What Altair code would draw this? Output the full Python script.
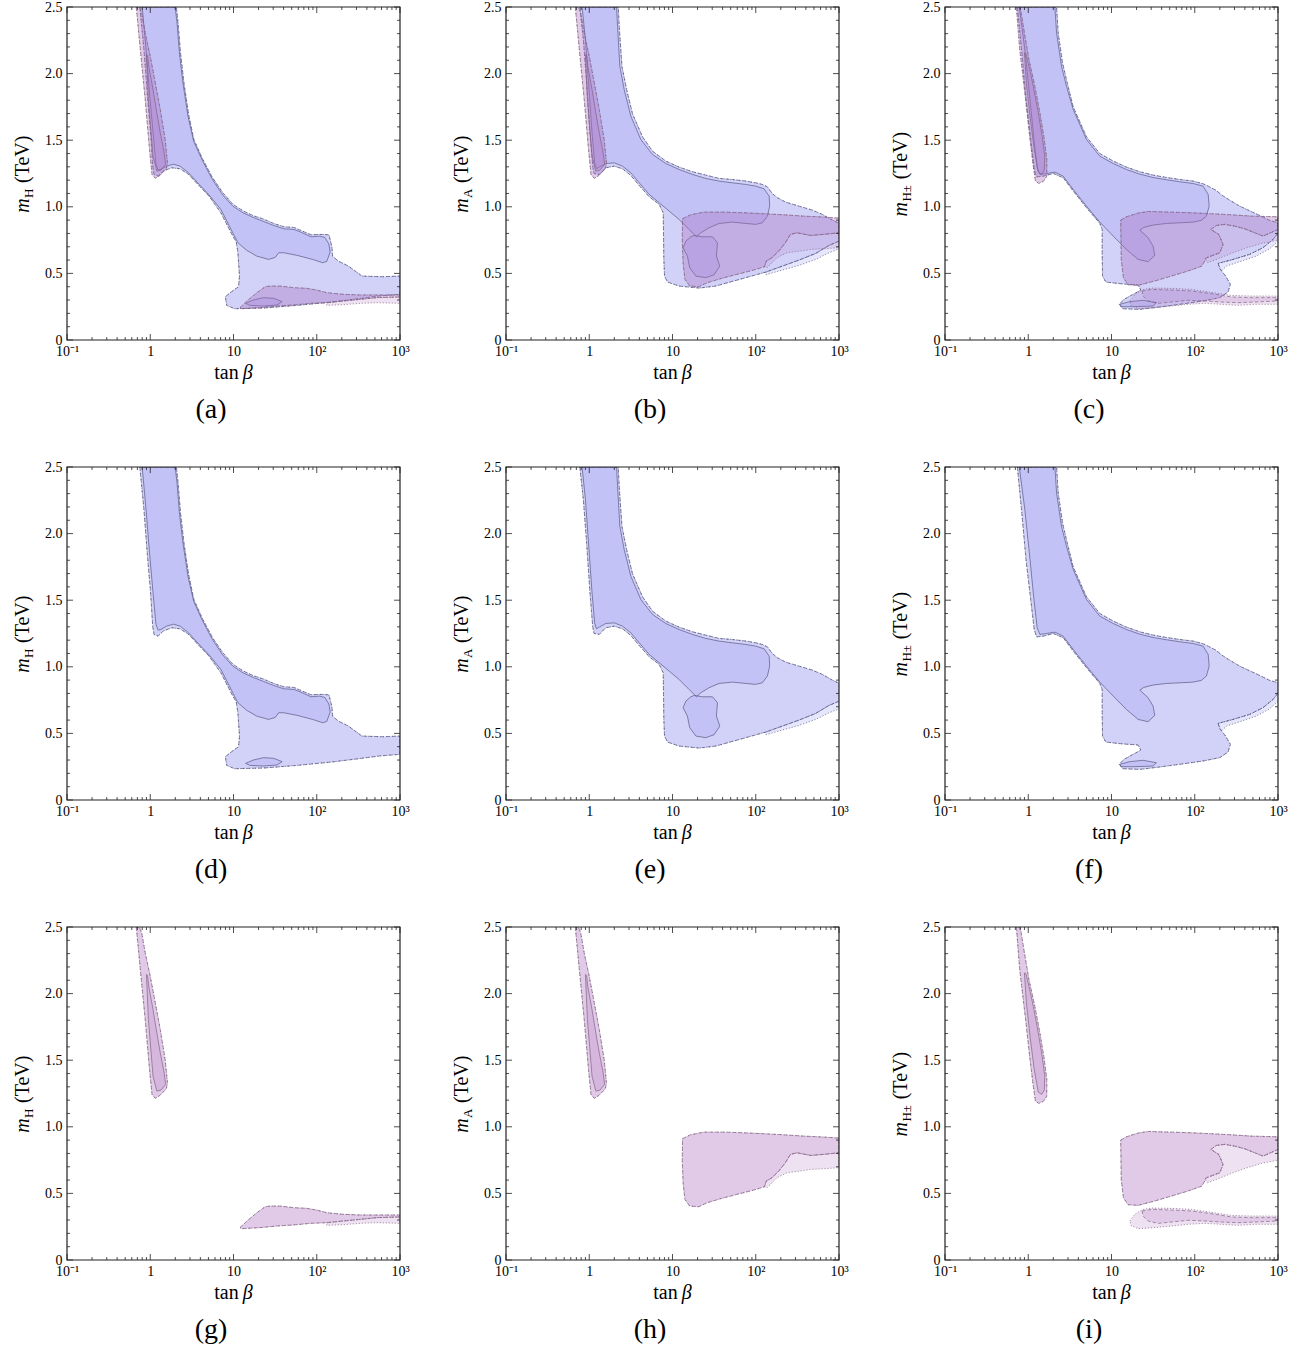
import altair as alt
import pandas as pd

# ---------------- axis ticks / labels ----------------
X_MAJOR = [0.1, 1, 10, 100, 1000]
X_TICK_LABELS = ["10⁻¹", "1", "10", "10²", "10³"]
X_MINOR = [m * d for d in (0.1, 1, 10, 100) for m in (2, 3, 4, 5, 6, 7, 8, 9)]
Y_MAJOR = [0, 0.5, 1.0, 1.5, 2.0, 2.5]
Y_MINOR = [0.1, 0.2, 0.3, 0.4, 0.6, 0.7, 0.8, 0.9, 1.1, 1.2, 1.3, 1.4,
           1.6, 1.7, 1.8, 1.9, 2.1, 2.2, 2.3, 2.4]
CAPTIONS = ["(a)", "(b)", "(c)", "(d)", "(e)", "(f)", "(g)", "(h)", "(i)"]
SUBSCRIPTS = ["H", "A", "H±"]

# ---------------- contour regions: (tan beta, mass in TeV) ----------------
# blue, m_H
BLUE_H_L1_STRIP = [(0.80, 2.50), (1.99, 2.50), (2.10, 2.38), (2.24, 2.155), (2.47, 1.93), (2.84, 1.68),
    (3.33, 1.49), (4.21, 1.35), (5.58, 1.205), (7.40, 1.09), (9.8, 1.005), (13.0, 0.955), (17.3, 0.92),
    (22.9, 0.89), (30.3, 0.86), (40.2, 0.835), (53.3, 0.83), (64.3, 0.81), (85.2, 0.775), (108, 0.78),
    (125, 0.77), (140, 0.72), (145, 0.66), (132, 0.59), (118, 0.58), (89, 0.605), (58.5, 0.635),
    (40.2, 0.655), (34.9, 0.655), (31.8, 0.62), (26.3, 0.605), (19.0, 0.63), (14.3, 0.675), (11.3, 0.73),
    (9.35, 0.83), (7.06, 0.98), (5.08, 1.09), (3.84, 1.17), (2.89, 1.255), (2.29, 1.305), (1.90, 1.32),
    (1.57, 1.305), (1.34, 1.28), (1.24, 1.275), (1.17, 1.32), (1.08, 1.555), (0.98, 1.855), (0.89, 2.18)]
BLUE_H_L1_ISLAND = [(14.0, 0.275), (17.3, 0.30), (22.9, 0.318), (30.3, 0.313), (38.4, 0.288),
    (33.3, 0.263), (22.9, 0.255), (15.7, 0.26)]
BLUE_H_L2 = [(0.75, 2.50), (0.84, 2.18), (0.92, 1.855), (1.01, 1.555), (1.07, 1.305), (1.11, 1.243),
    (1.24, 1.23), (1.43, 1.268), (1.81, 1.293), (2.29, 1.285), (2.89, 1.243), (3.84, 1.16), (5.08, 1.08),
    (7.06, 0.955), (9.35, 0.805), (10.8, 0.735), (11.3, 0.655), (11.8, 0.48), (11.5, 0.40), (9.35, 0.36),
    (7.98, 0.325), (8.28, 0.26), (10.3, 0.235), (22.9, 0.24), (58.5, 0.26), (150, 0.285), (318, 0.31),
    (558, 0.33), (1000, 0.343), (1000, 0.48), (613, 0.475), (349, 0.48), (289, 0.518), (240, 0.555),
    (181, 0.593), (155, 0.63), (152, 0.70), (140, 0.79), (108, 0.793), (85.2, 0.79), (64.3, 0.823),
    (53.3, 0.845), (40.2, 0.85), (30.3, 0.875), (22.9, 0.908), (17.3, 0.933), (13.0, 0.97), (9.8, 1.02),
    (7.40, 1.108), (5.58, 1.22), (4.21, 1.365), (3.33, 1.508), (2.89, 1.693), (2.54, 1.93), (2.31, 2.155),
    (2.16, 2.38), (2.06, 2.50)]

# blue, m_A
BLUE_A_L1_STRIP = [(0.82, 2.50), (2.13, 2.50), (2.19, 2.355), (2.33, 2.055), (2.63, 1.88), (3.16, 1.68),
    (4.17, 1.505), (5.75, 1.393), (8.32, 1.325), (12.0, 1.28), (17.4, 1.243), (25.1, 1.213), (36.3, 1.193),
    (52.5, 1.18), (75.9, 1.168), (100, 1.155), (126, 1.135), (145, 1.08), (147, 1.005), (138, 0.93),
    (120, 0.88), (100, 0.868), (75.9, 0.875), (52.5, 0.885), (36.3, 0.875), (27.5, 0.843), (21.9, 0.805),
    (19.4, 0.775), (15.8, 0.83), (12.0, 0.905), (9.12, 0.968), (6.92, 1.03), (5.25, 1.093), (3.98, 1.18),
    (3.16, 1.255), (2.51, 1.305), (2.0, 1.33), (1.58, 1.325), (1.32, 1.298), (1.22, 1.285), (1.16, 1.33),
    (1.08, 1.555), (0.98, 1.93), (0.90, 2.255)]
BLUE_A_L1_ISLAND = [(18.2, 0.785), (22.9, 0.775), (30.2, 0.775), (34.7, 0.73), (33.7, 0.63), (37.0, 0.555),
    (31.6, 0.49), (25.1, 0.468), (19.1, 0.48), (16.1, 0.543), (15.1, 0.63), (13.4, 0.693), (14.5, 0.743),
    (16.6, 0.775)]
BLUE_A_L2 = [(0.77, 2.50), (0.85, 2.255), (0.93, 1.93), (1.02, 1.555), (1.10, 1.305), (1.14, 1.25),
    (1.32, 1.243), (1.58, 1.293), (2.0, 1.305), (2.51, 1.285), (3.16, 1.235), (3.98, 1.16), (5.25, 1.075),
    (6.92, 1.018), (7.73, 0.955), (7.80, 0.805), (7.87, 0.605), (8.02, 0.48), (8.71, 0.435), (12.0, 0.405),
    (20.9, 0.39), (33.1, 0.405), (52.5, 0.44), (83.2, 0.475), (132, 0.51), (209, 0.555), (331, 0.60),
    (525, 0.65), (759, 0.71), (1010, 0.743), (1010, 0.875), (832, 0.90), (631, 0.943), (479, 0.975),
    (331, 1.005), (229, 1.035), (182, 1.068), (158, 1.10), (138, 1.15), (120, 1.168), (100, 1.18),
    (75.9, 1.193), (52.5, 1.205), (36.3, 1.213), (25.1, 1.238), (17.4, 1.263), (12.0, 1.298), (8.32, 1.343),
    (5.75, 1.418), (4.37, 1.525), (3.31, 1.698), (2.81, 1.88), (2.47, 2.055), (2.29, 2.355), (2.23, 2.50)]
BLUE_A_L3X = [(132, 0.51), (209, 0.555), (331, 0.60), (525, 0.65), (759, 0.71), (1010, 0.743),
    (1010, 0.685), (759, 0.655), (525, 0.605), (331, 0.56), (209, 0.525), (132, 0.49)]

# blue, m_H+-
BLUE_C_L1_STRIP = [(0.78, 2.50), (2.09, 2.50), (2.19, 2.305), (2.51, 2.055), (2.88, 1.905), (3.47, 1.73),
    (5.01, 1.505), (7.24, 1.38), (10.5, 1.325), (15.1, 1.28), (21.9, 1.245), (31.6, 1.22), (45.7, 1.203),
    (66.1, 1.188), (95.5, 1.175), (126, 1.155), (145, 1.093), (149, 1.005), (138, 0.93), (120, 0.898),
    (95.5, 0.885), (66.1, 0.88), (45.7, 0.875), (31.6, 0.863), (24.4, 0.845), (21.9, 0.825), (27.5, 0.768),
    (31.6, 0.705), (33.1, 0.635), (27.5, 0.588), (20.9, 0.605), (15.1, 0.68), (10.5, 0.78), (7.24, 0.885),
    (5.01, 1.005), (3.47, 1.13), (2.63, 1.23), (2.09, 1.26), (1.66, 1.25), (1.38, 1.243), (1.28, 1.293),
    (1.17, 1.505), (1.05, 1.805), (0.91, 2.18)]
BLUE_C_L1_ISLAND = [(12.6, 0.268), (16.6, 0.288), (24.0, 0.298), (34.7, 0.28), (31.6, 0.255),
    (18.2, 0.25), (13.2, 0.25)]
BLUE_C_L2 = [(0.74, 2.50), (0.83, 2.18), (0.94, 1.805), (1.07, 1.505), (1.18, 1.28), (1.26, 1.225),
    (1.51, 1.23), (2.0, 1.25), (2.63, 1.218), (3.47, 1.118), (5.01, 0.993), (7.24, 0.875), (7.73, 0.83),
    (7.73, 0.655), (7.80, 0.48), (8.55, 0.435), (12.6, 0.423), (20.9, 0.413), (22.5, 0.375), (18.2, 0.343),
    (14.1, 0.305), (12.4, 0.268), (13.6, 0.235), (21.9, 0.23), (38.0, 0.248), (66.1, 0.268), (126, 0.293),
    (200, 0.318), (251, 0.36), (268, 0.418), (235, 0.48), (200, 0.535), (191, 0.575), (288, 0.605),
    (457, 0.643), (661, 0.693), (871, 0.755), (1010, 0.805), (1010, 0.88), (794, 0.898), (603, 0.935),
    (457, 0.97), (347, 1.005), (263, 1.05), (215, 1.085), (179, 1.125), (145, 1.155), (126, 1.173),
    (95.5, 1.193), (66.1, 1.205), (45.7, 1.22), (31.6, 1.238), (21.9, 1.263), (15.1, 1.298), (10.5, 1.343),
    (7.24, 1.40), (5.01, 1.525), (3.47, 1.75), (2.94, 1.93), (2.58, 2.08), (2.29, 2.305), (2.19, 2.50)]
BLUE_C_L3X = [(191, 0.575), (288, 0.605), (457, 0.643), (661, 0.693), (871, 0.755), (1010, 0.805),
    (1010, 0.743), (794, 0.685), (550, 0.63), (347, 0.588), (240, 0.555), (209, 0.518)]

# pink, m_H and m_A (same narrow strip)
PINK_STRIP_L2 = [(0.68, 2.50), (0.76, 2.18), (0.87, 1.805), (0.98, 1.43), (1.05, 1.243), (1.15, 1.213),
    (1.32, 1.238), (1.56, 1.285), (1.61, 1.33), (1.51, 1.505), (1.32, 1.73), (1.15, 1.93), (1.0, 2.13),
    (0.87, 2.305), (0.79, 2.455), (0.74, 2.50)]
PINK_STRIP_L1 = [(0.90, 2.143), (0.95, 1.805), (1.08, 1.38), (1.20, 1.268), (1.34, 1.275), (1.53, 1.318),
    (1.47, 1.405), (1.32, 1.555), (1.20, 1.705), (1.08, 1.88), (0.96, 2.055), (0.93, 2.135)]
PINK_H_BAND_L2 = [(12.0, 0.243), (14.5, 0.293), (19.1, 0.355), (24.0, 0.40), (27.5, 0.405), (36.3, 0.405),
    (52.5, 0.393), (75.9, 0.388), (100, 0.375), (132, 0.355), (209, 0.343), (331, 0.338), (1000, 0.338),
    (1000, 0.323), (525, 0.318), (331, 0.305), (209, 0.293), (132, 0.28), (83.2, 0.275), (52.5, 0.263),
    (33.1, 0.255), (20.9, 0.243), (12.5, 0.235)]
PINK_H_BAND_L3X = [(132, 0.28), (209, 0.293), (331, 0.305), (525, 0.318), (1000, 0.323), (1000, 0.275),
    (525, 0.28), (331, 0.275), (209, 0.265), (132, 0.26)]
PINK_A_L2 = [(13.2, 0.91), (16.4, 0.94), (23.8, 0.96), (41.3, 0.96), (71.8, 0.955), (125, 0.948),
    (217, 0.94), (377, 0.93), (655, 0.923), (1000, 0.915), (1000, 0.805), (655, 0.793), (453, 0.785),
    (313, 0.805), (261, 0.793), (227, 0.73), (189, 0.668), (157, 0.618), (134, 0.593), (127, 0.55),
    (94.6, 0.525), (59.7, 0.493), (37.7, 0.46), (26.1, 0.43), (20.7, 0.40), (16.1, 0.405), (14.1, 0.455),
    (13.4, 0.58), (13.1, 0.755)]
PINK_A_L3X = [(127, 0.55), (134, 0.593), (157, 0.618), (189, 0.668), (227, 0.73), (261, 0.793),
    (313, 0.805), (453, 0.785), (655, 0.793), (1000, 0.805), (1000, 0.693), (655, 0.685), (453, 0.68),
    (344, 0.668), (238, 0.655), (180, 0.618), (157, 0.58), (137, 0.543)]

# pink, m_H+-
PINK_C_STRIP_L2 = [(0.72, 2.50), (0.79, 2.18), (0.93, 1.805), (1.05, 1.505), (1.15, 1.305), (1.22, 1.193),
    (1.34, 1.175), (1.53, 1.193), (1.67, 1.23), (1.67, 1.355), (1.56, 1.505), (1.38, 1.705), (1.20, 1.905),
    (1.02, 2.105), (0.90, 2.305), (0.80, 2.50)]
PINK_C_STRIP_L1 = [(0.90, 2.155), (0.95, 1.93), (1.05, 1.68), (1.18, 1.43), (1.32, 1.26), (1.45, 1.243),
    (1.56, 1.275), (1.58, 1.38), (1.47, 1.53), (1.32, 1.705), (1.15, 1.905), (1.02, 2.055), (0.94, 2.148)]
PINK_C_UP_L2 = [(12.9, 0.90), (15.1, 0.925), (20.9, 0.953), (27.5, 0.965), (52.5, 0.96), (91.2, 0.955),
    (158, 0.948), (275, 0.94), (479, 0.93), (1000, 0.925), (1000, 0.83), (661, 0.78), (550, 0.80),
    (398, 0.835), (302, 0.855), (229, 0.868), (182, 0.86), (156, 0.83), (194, 0.793), (219, 0.718),
    (200, 0.655), (138, 0.618), (122, 0.555), (83.2, 0.518), (52.5, 0.48), (33.1, 0.443), (20.9, 0.41),
    (15.8, 0.415), (13.9, 0.468), (13.1, 0.605)]
PINK_C_UP_L3X = [(194, 0.793), (156, 0.83), (182, 0.86), (229, 0.868), (302, 0.855), (398, 0.835),
    (550, 0.80), (661, 0.78), (1000, 0.83), (1000, 0.75), (631, 0.725), (437, 0.695), (302, 0.66),
    (229, 0.63), (174, 0.60), (142, 0.58), (132, 0.61), (200, 0.655), (219, 0.718)]
PINK_C_LOW_L2 = [(23.3, 0.368), (30.2, 0.38), (52.5, 0.375), (91.2, 0.368), (132, 0.355), (191, 0.34),
    (275, 0.323), (479, 0.318), (1000, 0.318), (1000, 0.293), (525, 0.285), (331, 0.28), (209, 0.285),
    (132, 0.293), (83.2, 0.298), (52.5, 0.285), (36.3, 0.275), (27.5, 0.293), (24.0, 0.33)]
PINK_C_LOW_L3 = [(16.6, 0.293), (19.1, 0.343), (23.3, 0.378), (30.2, 0.39), (52.5, 0.388), (91.2, 0.38),
    (132, 0.365), (191, 0.35), (275, 0.335), (479, 0.33), (1000, 0.33), (1000, 0.268), (525, 0.268),
    (331, 0.26), (209, 0.268), (132, 0.275), (83.2, 0.268), (52.5, 0.255), (33.1, 0.243), (20.9, 0.235),
    (17.1, 0.26)]

# levels: 3 = dotted (outer), 2 = dashed, 1 = solid (inner)
BLUE_SETS = [
    {3: [BLUE_H_L2], 2: [BLUE_H_L2], 1: [BLUE_H_L1_STRIP, BLUE_H_L1_ISLAND]},
    {3: [BLUE_A_L2, BLUE_A_L3X], 2: [BLUE_A_L2], 1: [BLUE_A_L1_STRIP, BLUE_A_L1_ISLAND]},
    {3: [BLUE_C_L2, BLUE_C_L3X], 2: [BLUE_C_L2], 1: [BLUE_C_L1_STRIP, BLUE_C_L1_ISLAND]},
]
PINK_SETS = [
    {3: [PINK_STRIP_L2, PINK_H_BAND_L2, PINK_H_BAND_L3X], 2: [PINK_STRIP_L2, PINK_H_BAND_L2],
     1: [PINK_STRIP_L1]},
    {3: [PINK_STRIP_L2, PINK_A_L2, PINK_A_L3X], 2: [PINK_STRIP_L2, PINK_A_L2], 1: [PINK_STRIP_L1]},
    {3: [PINK_C_STRIP_L2, PINK_C_UP_L2, PINK_C_UP_L3X, PINK_C_LOW_L3],
     2: [PINK_C_STRIP_L2, PINK_C_UP_L2, PINK_C_LOW_L2], 1: [PINK_C_STRIP_L1]},
]

# ---------------- styling ----------------
W = 333
H = 333
FONT = "Liberation Serif"
BLUE = ("#8084f0", "#55557c")
PINK = ("#aa6ebe", "#80607f")
DASH = {3: [1.2, 1.8], 2: [3.5, 2.2]}

XS = alt.Scale(type="log", domain=[0.1, 1000], nice=False)
YS = alt.Scale(domain=[0, 2.5], nice=False, zero=False)
lab_expr = " : ".join(
    [f"datum.value < {v * 3.0} ? '{lab}'" for v, lab in zip(X_MAJOR[:-1], X_TICK_LABELS[:-1])]
) + f" : '{X_TICK_LABELS[-1]}'"
XAX = alt.Axis(title=None, values=X_MAJOR, labelExpr=lab_expr, ticks=False, tickSize=0, domain=False,
               grid=False, labelFlush=False, labelPadding=4, labelOverlap=False)
YAX = alt.Axis(title=None, values=Y_MAJOR, labelExpr="datum.value == 0 ? '0' : format(datum.value, '.1f')",
               ticks=False, tickSize=0, domain=False, grid=False, labelFlush=False, labelPadding=5,
               labelOverlap=False)


def poly_layer(polys, colors, level):
    rows = []
    for k, poly in enumerate(polys):
        for j, (t, m) in enumerate(poly):
            rows.append({"poly": k, "ord": j, "tanb": t, "m": m})
    kw = dict(interpolate="linear-closed", fill=colors[0], fillOpacity=0.2, stroke=colors[1],
              strokeOpacity=0.85, strokeWidth=0.8, clip=True)
    if level in DASH:
        kw["strokeDash"] = DASH[level]
    return alt.Chart(pd.DataFrame(rows)).mark_line(**kw).encode(
        x=alt.X("tanb:Q", scale=XS, axis=XAX),
        y=alt.Y("m:Q", scale=YS, axis=YAX),
        detail="poly:N",
        order="ord:Q",
    )


def xtick_layer(vals, length, top):
    y0, y1 = (0, length) if top else (H, H - length)
    return alt.Chart(pd.DataFrame({"v": vals})).mark_rule(color="#222", strokeWidth=0.8).encode(
        x=alt.X("v:Q", scale=XS, axis=XAX), y=alt.value(y0), y2=alt.value(y1))


def ytick_layer(vals, length, right):
    x0, x1 = (W, W - length) if right else (0, length)
    return alt.Chart(pd.DataFrame({"v": vals})).mark_rule(color="#222", strokeWidth=0.8).encode(
        y=alt.Y("v:Q", scale=YS, axis=YAX), x=alt.value(x0), x2=alt.value(x1))


def text_layer(s, x, y, size, italic=False, angle=0, align="left", baseline="alphabetic"):
    kw = dict(font=FONT, fontSize=size, align=align, baseline=baseline, color="black")
    if italic:
        kw["fontStyle"] = "italic"
    if angle:
        kw["angle"] = angle
    return alt.Chart(pd.DataFrame({"s": [s]})).mark_text(**kw).encode(
        x=alt.value(x), y=alt.value(y), text="s:N")


TS = 20      # title font size
SS = 13      # subscript font size


def panel(col, row):
    layers = []
    if row in (0, 1):
        for lv in (3, 2, 1):
            layers.append(poly_layer(BLUE_SETS[col][lv], BLUE, lv))
    if row in (0, 2):
        for lv in (3, 2, 1):
            layers.append(poly_layer(PINK_SETS[col][lv], PINK, lv))
    layers += [
        xtick_layer(X_MAJOR, 6, False), xtick_layer(X_MINOR, 3, False),
        xtick_layer(X_MAJOR, 6, True), xtick_layer(X_MINOR, 3, True),
        ytick_layer(Y_MAJOR, 6, False), ytick_layer(Y_MINOR, 3, False),
        ytick_layer(Y_MAJOR, 6, True), ytick_layer(Y_MINOR, 3, True),
    ]
    layers.append(
        alt.Chart(pd.DataFrame({"a": [0]})).mark_rect(fillOpacity=0, stroke="#222", strokeWidth=1.2).encode(
            x=alt.value(0), x2=alt.value(W), y=alt.value(0), y2=alt.value(H)))
    # y title: m_sub (TeV), rotated
    sub = SUBSCRIPTS[col]
    w_m = 0.722 * TS
    w_sub = (0.722 + (0.564 if len(sub) > 1 else 0)) * SS
    w_rest = (0.25 + 2.443) * TS
    total = w_m + w_sub + 1 + w_rest
    y0 = H / 2 + total / 2
    xb = -38
    layers.append(text_layer("m", xb, y0, TS, italic=True, angle=270))
    layers.append(text_layer(sub, xb + 4, y0 - w_m - 0.5, SS, angle=270))
    layers.append(text_layer("(TeV)", xb, y0 - w_m - w_sub - 1 - 0.25 * TS, TS, angle=270))
    # x title: tan beta
    w_tan = 1.222 * TS
    tot_x = w_tan + 4 + 0.5 * TS
    x0 = W / 2 - tot_x / 2
    layers.append(text_layer("tan", x0, H + 39, TS))
    layers.append(text_layer("β", x0 + w_tan + 4, H + 39, TS, italic=True))
    # caption
    layers.append(text_layer(CAPTIONS[row * 3 + col], 144, H + 70, 28, align="center", baseline="middle"))
    return alt.layer(*layers).properties(width=W, height=H)


panels = [panel(c, r) for r in range(3) for c in range(3)]
chart = alt.concat(*panels, columns=3, spacing={"row": 127, "column": 106}, bounds="flush").properties(
    padding={"left": 13, "top": 0, "right": 5, "bottom": 5}
).configure_view(strokeWidth=0).configure_axis(
    labelFont=FONT, labelFontSize=14, labelColor="black"
)

chart.save("out.html", embed_options={"renderer": "svg", "actions": False})
